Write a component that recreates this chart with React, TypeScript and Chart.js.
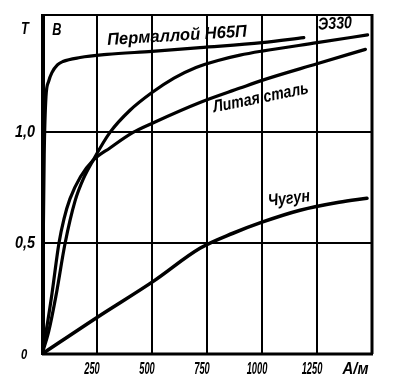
import React, { useEffect, useRef } from "react";
import { Chart, registerables } from "chart.js";

Chart.register(...registerables);

// ---- data (H in A/m, B in T) ----
const PERM_H = [0, 10, 18, 30, 45, 70, 95, 173, 295, 500, 718, 1000, 1190];
const PERM_B = [0, 0.9, 1.16, 1.23, 1.27, 1.305, 1.32, 1.338, 1.352, 1.366, 1.383, 1.405, 1.428];

const E330_H = [0, 30, 63, 105, 150, 190, 232, 309, 400, 500, 600, 700, 800, 900, 1000, 1250, 1480];
const E330_B = [0, 0.1, 0.26, 0.5, 0.69, 0.795, 0.874, 1.0, 1.1, 1.18, 1.245, 1.293, 1.325, 1.349, 1.367, 1.405, 1.44];

const STEEL_H = [0, 20, 45, 77, 100, 127, 175, 232, 309, 414, 509, 718, 900, 1000, 1250, 1470];
const STEEL_B = [0, 0.11, 0.27, 0.5, 0.61, 0.7, 0.8, 0.874, 0.93, 1.0, 1.045, 1.135, 1.2, 1.235, 1.31, 1.375];

const IRON_H = [0, 250, 509, 718, 868, 1000, 1173, 1350, 1477];
const IRON_B = [0, 0.165, 0.33, 0.477, 0.545, 0.595, 0.649, 0.685, 0.703];

const SERIES_NAMES = ["Пермаллой Н65П", "Э330", "Литая сталь", "Чугун"];

const X_GRID = [250, 500, 750, 1000, 1250];
const X_TICK_LABELS = ["250", "500", "750", "1000", "1250"];
const Y_GRID = [0.5, 1.0];
const Y_TICK_LABELS = ["0,5", "1,0"];
const ORIGIN_LABEL = "0";
const X_UNIT = "A/м";
const Y_UNIT = "Т";
const Y_QTY = "B";
const X_MIN = 0, X_MAX = 1500;
const Y_MIN = 0, Y_MAX = 1.53;

// ---- layout of the curve labels (anchored in data coordinates) ----
const LABEL_LAYOUT = [
  { h: 614, b: 1.435, w: 140, angle: -3.5 },
  { h: 1332, b: 1.489, w: 34, angle: -3 },
  { h: 995, b: 1.155, w: 97, angle: -11.5 },
  { h: 1123, b: 0.7, w: 42, angle: -7 },
];

const FONT = '"Liberation Sans", "DejaVu Sans", sans-serif';

function zip(xs: number[], ys: number[]) {
  return xs.map((x, i) => ({ x, y: ys[i] }));
}

function drawText(
  ctx: CanvasRenderingContext2D,
  text: string,
  cx: number,
  cy: number,
  size: number,
  opts: { width?: number; scaleX?: number; angle?: number } = {}
) {
  ctx.save();
  ctx.font = `italic bold ${size}px ${FONT}`;
  const m = ctx.measureText(text).width;
  const sx = opts.width ? opts.width / m : opts.scaleX ?? 1;
  ctx.translate(cx, cy);
  ctx.rotate(((opts.angle ?? 0) * Math.PI) / 180);
  ctx.scale(sx, 1);
  ctx.textAlign = "center";
  ctx.textBaseline = "middle";
  ctx.fillStyle = "#000";
  ctx.fillText(text, 0, 0);
  ctx.restore();
}

const decorPlugin = {
  id: "decor",
  beforeDatasetsDraw(chart: any) {
    const { ctx, chartArea: a } = chart;
    ctx.save();
    ctx.strokeStyle = "#000";
    ctx.lineWidth = 2;
    ctx.beginPath();
    ctx.moveTo(a.left, a.top);
    ctx.lineTo(a.right, a.top);
    ctx.stroke();
    ctx.lineWidth = 3;
    ctx.beginPath();
    ctx.moveTo(a.left, a.bottom);
    ctx.lineTo(a.right + 1, a.bottom);
    ctx.stroke();
    ctx.lineWidth = 3;
    ctx.beginPath();
    ctx.moveTo(a.right, a.top - 1);
    ctx.lineTo(a.right, a.bottom);
    ctx.stroke();
    ctx.lineWidth = 4;
    ctx.beginPath();
    ctx.moveTo(a.left + 1, a.top - 1);
    ctx.lineTo(a.left + 1, a.bottom + 1);
    ctx.stroke();
    ctx.restore();
  },
  afterDraw(chart: any) {
    const { ctx, chartArea: a, scales } = chart;
    const xs = scales.x, ys = scales.y;
    X_GRID.forEach((v, i) => {
      drawText(ctx, X_TICK_LABELS[i], xs.getPixelForValue(v) - 5, a.bottom + 16, 16, { scaleX: 0.58 });
    });
    drawText(ctx, X_UNIT, xs.getPixelForValue(1425), a.bottom + 16, 16, { width: 26 });
    Y_GRID.forEach((v, i) => {
      drawText(ctx, Y_TICK_LABELS[i], a.left - 17, ys.getPixelForValue(v), 16, { width: 20 });
    });
    drawText(ctx, ORIGIN_LABEL, a.left - 18, a.bottom + 1, 14, { scaleX: 0.8 });
    drawText(ctx, Y_UNIT, a.left - 17, a.top + 15, 16, { scaleX: 0.8 });
    drawText(ctx, Y_QTY, xs.getPixelForValue(68), ys.getPixelForValue(1.462), 17, { scaleX: 0.75 });
    SERIES_NAMES.forEach((name, i) => {
      const L = LABEL_LAYOUT[i];
      drawText(ctx, name, xs.getPixelForValue(L.h), ys.getPixelForValue(L.b), 17, {
        width: L.w,
        angle: L.angle,
      });
    });
  },
};

export default function App() {
  const ref = useRef<HTMLCanvasElement | null>(null);
  useEffect(() => {
    if (!ref.current) return;
    const mk = (label: string, h: number[], b: number[], w: number) => ({
      label,
      data: zip(h, b),
      borderColor: "#000",
      borderWidth: w,
      pointRadius: 0,
      fill: false,
      cubicInterpolationMode: "monotone" as const,
      borderCapStyle: "round" as const,
    });
    const chart = new Chart(ref.current, {
      type: "line",
      data: {
        datasets: [
          mk(SERIES_NAMES[0], PERM_H, PERM_B, 3.2),
          mk(SERIES_NAMES[1], E330_H, E330_B, 3.2),
          mk(SERIES_NAMES[2], STEEL_H, STEEL_B, 3.2),
          mk(SERIES_NAMES[3], IRON_H, IRON_B, 3.6),
        ],
      },
      options: {
        animation: false,
        responsive: false,
        maintainAspectRatio: false,
        layout: { padding: { left: 42, right: 25, top: 15, bottom: 35 } },
        plugins: { legend: { display: false }, tooltip: { enabled: false } },
        scales: {
          x: {
            type: "linear",
            min: X_MIN,
            max: X_MAX,
            afterBuildTicks: (s: any) => {
              s.ticks = X_GRID.map((v) => ({ value: v }));
            },
            ticks: { display: false },
            grid: { drawTicks: false, color: "#000", lineWidth: 2 },
            border: { display: false },
          },
          y: {
            type: "linear",
            min: Y_MIN,
            max: Y_MAX,
            afterBuildTicks: (s: any) => {
              s.ticks = Y_GRID.map((v) => ({ value: v }));
            },
            ticks: { display: false },
            grid: { drawTicks: false, color: "#000", lineWidth: 2 },
            border: { display: false },
          },
        },
      },
      plugins: [decorPlugin],
    });
    return () => chart.destroy();
  }, []);
  return (
    <div style={{ position: "fixed", left: 0, top: 0, width: 397, height: 389, background: "#fff" }}>
      <canvas ref={ref} width={397} height={389} style={{ width: 397, height: 389, display: "block" }} />
    </div>
  );
}
